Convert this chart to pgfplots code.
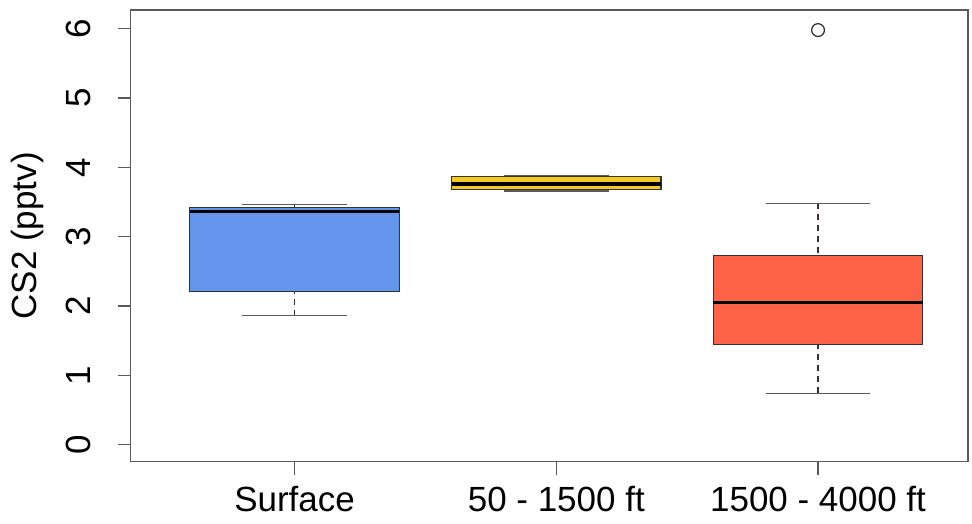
\documentclass[border=0pt]{standalone}
\usepackage{pgfplots}
\pgfplotsset{compat=1.18}
\usepgfplotslibrary{statistics}
\usepackage{fontspec}
\setmainfont{Liberation Sans}
\definecolor{cblue}{RGB}{100,149,237}
\definecolor{cgold}{RGB}{242,201,30}
\definecolor{cred}{RGB}{255,99,71}
\definecolor{axgray}{RGB}{90,90,90}
\begin{document}
\fontsize{17.5}{20}\selectfont
\begin{tikzpicture}
\begin{axis}[
  scale only axis, width=419pt, height=226pt,
  xmin=0.374, xmax=3.573, ymin=-0.245, ymax=6.27,
  clip=false,
  axis line style={axgray, line width=0.6pt},
  xtick={1,2,3}, xticklabels={Surface,50 - 1500 ft,1500 - 4000 ft},
  ytick={0,1,2,3,4,5,6},
  xtick pos=bottom, ytick pos=left,
  tick align=outside, major tick length=6.5pt,
  tick style={axgray, line width=0.6pt},
  /pgf/number format/assume math mode=true,
  yticklabel style={rotate=90, anchor=south, yshift=7.5pt, font=\fontsize{17.5}{20}\selectfont},
  xticklabel style={font=\fontsize{17.5}{20}\selectfont, yshift=0pt},
  ylabel={CS2 (pptv)},
  ylabel shift=-1pt,
  ylabel style={font=\fontsize{17.5}{20}\selectfont},
  boxplot/draw direction=y,
  boxplot/box extend=0.8,
  boxplot/draw/lower whisker/.code={
    \draw[dashed, line width=0.6pt, dash pattern=on 3pt off 2.5pt] (boxplot box cs:\pgfplotsboxplotvalue{lower whisker},0.5) -- (boxplot box cs:\pgfplotsboxplotvalue{lower quartile},0.5);
    \draw[axgray, line width=0.6pt] (boxplot box cs:\pgfplotsboxplotvalue{lower whisker},0.25) -- (boxplot box cs:\pgfplotsboxplotvalue{lower whisker},0.75);
  },
  boxplot/draw/upper whisker/.code={
    \draw[dashed, line width=0.6pt, dash pattern=on 3pt off 2.5pt] (boxplot box cs:\pgfplotsboxplotvalue{upper whisker},0.5) -- (boxplot box cs:\pgfplotsboxplotvalue{upper quartile},0.5);
    \draw[axgray, line width=0.6pt] (boxplot box cs:\pgfplotsboxplotvalue{upper whisker},0.25) -- (boxplot box cs:\pgfplotsboxplotvalue{upper whisker},0.75);
  },
  boxplot/every median/.style={line width=1.6pt, black},
]
\path (rel axis cs:0,0) ++(-65pt,-28pt) rectangle ++(486pt,259pt);
\addplot[draw=black!80, line width=0.6pt, fill=cblue,
  boxplot prepared={draw position=1, lower whisker=1.86, lower quartile=2.21, median=3.36, upper quartile=3.42, upper whisker=3.46}]
  coordinates {};
\addplot[draw=black!80, line width=0.6pt, fill=cgold,
  boxplot prepared={draw position=2, lower whisker=3.66, lower quartile=3.68, median=3.76, upper quartile=3.87, upper whisker=3.88}]
  coordinates {};
\addplot[draw=black!80, line width=0.6pt, fill=cred, mark=o, mark size=3.2pt, mark options={solid, fill=none, draw=black!85, line width=0.6pt},
  boxplot prepared={draw position=3, lower whisker=0.74, lower quartile=1.44, median=2.05, upper quartile=2.73, upper whisker=3.48}]
  table[row sep=\\, y index=0] {5.98\\};
\end{axis}
\end{tikzpicture}
\end{document}
